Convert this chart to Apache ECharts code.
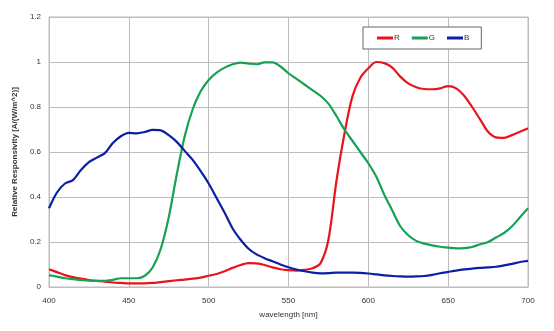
<!DOCTYPE html>
<html><head><meta charset="utf-8">
<script src="https://cdn.jsdelivr.net/npm/echarts@6/dist/echarts.min.js"></script>
<style>html,body{margin:0;padding:0;background:#fff}#c{width:554px;height:331px}</style>
</head><body><div id="c"></div>
<script>
const wavelengths = [400,405,410,415,420,425,430,435,440,445,450,455,460,465,470,475,480,485,490,495,500,505,510,515,520,525,530,535,540,545,550,555,560,565,570,575,580,585,590,595,600,605,610,615,620,625,630,635,640,645,650,655,660,665,670,675,680,685,690,695,700];
const red = [0.079,0.066,0.053,0.044,0.037,0.031,0.027,0.024,0.020,0.018,0.016,0.016,0.016,0.018,0.022,0.026,0.030,0.033,0.037,0.042,0.050,0.058,0.070,0.085,0.098,0.106,0.105,0.098,0.087,0.079,0.075,0.073,0.076,0.083,0.105,0.21,0.47,0.68,0.846,0.93,0.972,1.0,0.995,0.975,0.935,0.905,0.888,0.880,0.879,0.883,0.893,0.883,0.850,0.800,0.745,0.690,0.665,0.663,0.675,0.690,0.705];
const green = [0.053,0.046,0.039,0.035,0.031,0.028,0.027,0.027,0.032,0.039,0.039,0.039,0.050,0.088,0.17,0.31,0.50,0.67,0.79,0.87,0.92,0.953,0.975,0.99,0.997,0.993,0.99,0.998,0.998,0.98,0.95,0.925,0.90,0.875,0.85,0.815,0.76,0.70,0.65,0.60,0.55,0.49,0.41,0.34,0.27,0.23,0.205,0.193,0.185,0.179,0.175,0.172,0.173,0.178,0.19,0.20,0.22,0.24,0.27,0.31,0.35];
const blue = [0.35,0.42,0.46,0.475,0.52,0.555,0.575,0.595,0.64,0.67,0.685,0.683,0.689,0.698,0.696,0.675,0.645,0.605,0.565,0.515,0.46,0.395,0.33,0.26,0.21,0.17,0.145,0.128,0.114,0.10,0.088,0.078,0.070,0.064,0.061,0.062,0.064,0.064,0.064,0.063,0.060,0.056,0.052,0.049,0.047,0.046,0.047,0.049,0.054,0.061,0.067,0.073,0.078,0.082,0.085,0.087,0.090,0.096,0.103,0.111,0.116];
const seriesNames = ['R','G','B'];
const colors = ['#e8131b','#17a152','#0b1ea6'];

const pairs = arr => wavelengths.map((w,i)=>[w,arr[i]]);
const chart = echarts.init(document.getElementById('c'));
const txt = {color:'#333', fontSize:8, fontFamily:'Liberation Sans, Arial, sans-serif'};
chart.setOption({
  animation:false,
  grid:{left:49,right:26,top:17,bottom:44,show:true,borderColor:'#bdbdbd',borderWidth:1},
  legend:{
    left:363, top:27, data:seriesNames, icon:'rect', itemWidth:16, itemHeight:3, itemGap:12,
    padding:[7,12,7,14], borderColor:'#666', borderWidth:1, backgroundColor:'#fff',
    textStyle:Object.assign({},txt,{padding:[0,0,0,-4]})
  },
  xAxis:{type:'value',min:400,max:700,interval:50,
    name:'wavelength [nm]',nameLocation:'middle',nameGap:24,nameTextStyle:txt,
    axisLabel:Object.assign({margin:10},txt),
    axisLine:{show:true,lineStyle:{color:'#bdbdbd'}},axisTick:{show:false},
    splitLine:{show:true,lineStyle:{color:'#bdbdbd',width:1}}},
  yAxis:{type:'value',min:0,max:1.2,interval:0.2,
    name:'Relative Responsivity [A/(W/m^2)]',nameLocation:'middle',nameGap:28,nameRotate:90,
    nameTextStyle:Object.assign({},txt,{fontWeight:'bold'}),
    axisLabel:Object.assign({margin:8,formatter:v=>String(Math.round(v*10)/10)},txt),
    axisLine:{show:true,lineStyle:{color:'#bdbdbd'}},axisTick:{show:false},
    splitLine:{show:true,lineStyle:{color:'#bdbdbd',width:1}}},
  series:[red,green,blue].map((d,i)=>({
    name:seriesNames[i],type:'line',data:pairs(d),showSymbol:false,smooth:0.3,
    lineStyle:{color:colors[i],width:2.2},itemStyle:{color:colors[i]}
  }))
});
</script></body></html>
